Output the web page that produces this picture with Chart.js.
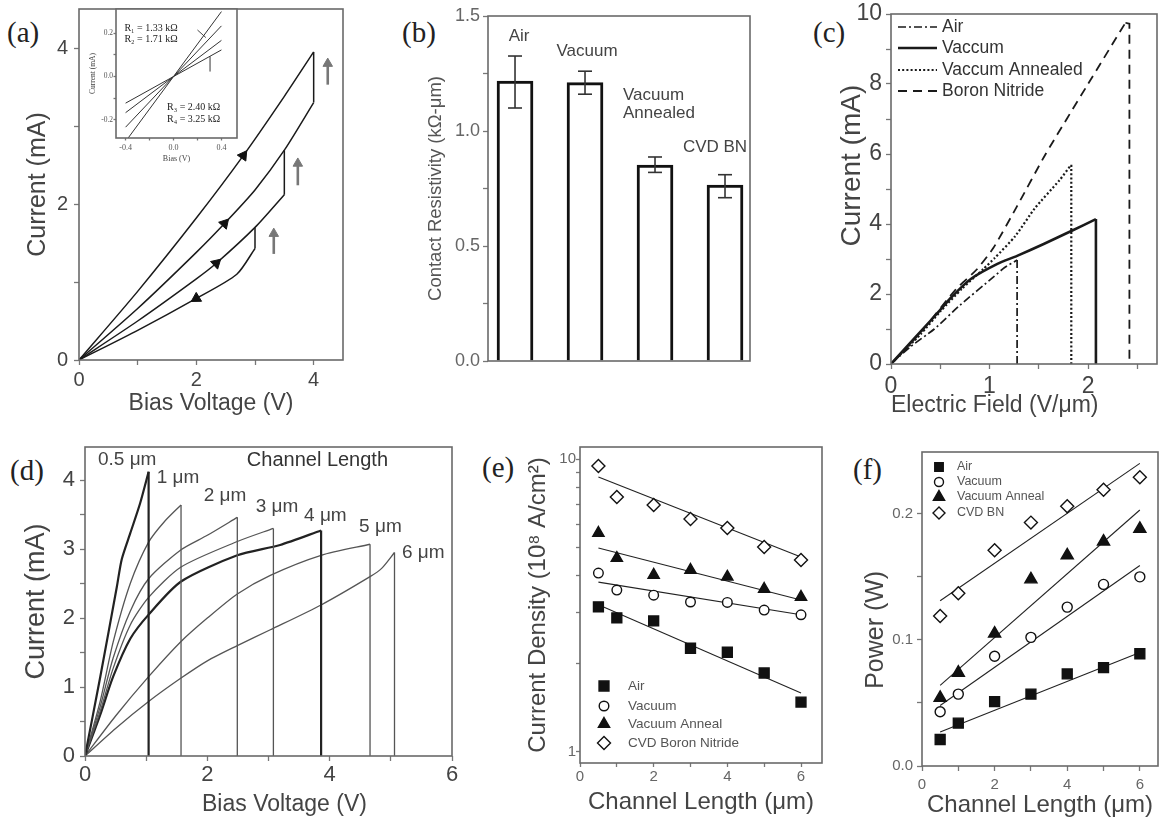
<!DOCTYPE html>
<html><head><meta charset="utf-8">
<script src="https://cdn.jsdelivr.net/npm/chart.js@4.4.1/dist/chart.umd.min.js"></script>
<style>
html,body{margin:0;padding:0;background:#fff;width:1160px;height:822px;overflow:hidden;position:relative}
canvas{position:absolute;left:-40px;top:-40px}
.pl{position:absolute;font-family:"Liberation Serif","Times New Roman",serif;font-size:29px;color:#222;line-height:1;transform:translateY(-50%)}
</style></head><body>
<div class="pl" style="left:7px;top:32px">(a)</div>
<div class="pl" style="left:402px;top:32px">(b)</div>
<div class="pl" style="left:813px;top:32px">(c)</div>
<div class="pl" style="left:10px;top:470px">(d)</div>
<div class="pl" style="left:482px;top:467px">(e)</div>
<div class="pl" style="left:853px;top:469px">(f)</div>
<script>
// ===================== DATA =====================
// (a) I-V sweeps (Bias V, Current mA)
const aBias1 = [0, 1, 2, 2.8, 3.5, 4];
const aCur1  = [0, 0.88, 1.82, 2.62, 3.38, 3.95];
const aBias2 = [0, 1, 2, 2.48, 3, 3.5, 4];
const aCur2  = [0, 0.66, 1.38, 1.75, 2.18, 2.69, 3.3];
const aBias3 = [0, 1, 2, 2.34, 3, 3.5];
const aCur3  = [0, 0.5, 1.04, 1.24, 1.7, 2.12];
const aBias4 = [0, 1, 2, 2.69, 3];
const aCur4  = [0, 0.38, 0.79, 1.1, 1.43];
const aDropV  = [4, 3.5, 3];
const aDropHi = [3.95, 2.69, 1.7];
const aDropLo = [3.3, 2.12, 1.43];
const aMarkV = [2.8, 2.48, 2.34, 2.0];
const aMarkI = [2.62, 1.75, 1.24, 0.79];
const aUpV    = [4.24, 3.73, 3.32];
const aUpFrom = [3.53, 2.24, 1.36];
const aUpTo   = [3.80, 2.52, 1.62];
const aTicks = [0, 1, 2, 3, 4];
const aTickLabels = [0, 2, 4];
// (a) inset
const inBias = [-0.4, 0.4];
const inCur1 = [-0.30, 0.30];
const inCur2 = [-0.234, 0.234];
const inCur3 = [-0.167, 0.167];
const inCur4 = [-0.123, 0.123];
const inRLabels = ['R\u2081 = 1.33 k\u03A9', 'R\u2082 = 1.71 k\u03A9', 'R\u2083 = 2.40 k\u03A9', 'R\u2084 = 3.25 k\u03A9'];
const inTicksX = [-0.4, -0.2, 0, 0.2, 0.4];
const inTickLabelsX = [-0.4, 0, 0.4];
const inTicksY = [-0.2, -0.1, 0, 0.1, 0.2];
const inTickLabelsY = [-0.2, 0, 0.2];
// (b) contact resistivity
const bLabels = [['Air'], ['Vacuum'], ['Vacuum', 'Annealed'], ['CVD BN']];
const bValues = [1.217, 1.21, 0.852, 0.765];
const bErrLo  = [1.10, 1.16, 0.82, 0.71];
const bErrHi  = [1.326, 1.26, 0.887, 0.81];
const bLabelY = [1.41, 1.345, 1.157, 0.93];
const bTicks = [0, 0.25, 0.5, 0.75, 1, 1.25, 1.5];
const bTickLabels = [0, 0.5, 1, 1.5];
// (c) current vs field
const cNames = ['Air', 'Vaccum', 'Vaccum Annealed', 'Boron Nitride'];
const cAirX = [0, 0.2, 0.44, 0.7, 1.05, 1.15, 1.28];
const cAirY = [0, 0.5, 1.0, 1.68, 2.51, 2.75, 2.97];
const cVacX = [0, 0.26, 0.47, 0.61, 0.81, 1.08, 1.28, 1.55, 1.83, 2.08];
const cVacY = [0, 0.8, 1.45, 1.9, 2.43, 2.86, 3.09, 3.43, 3.8, 4.14];
const cAnnX = [0, 0.3, 0.5, 0.72, 0.94, 1.05, 1.26, 1.46, 1.71, 1.82];
const cAnnY = [0, 0.85, 1.5, 2.15, 2.72, 3.02, 3.65, 4.45, 5.25, 5.66];
const cBNX  = [0, 0.3, 0.66, 0.87, 1.04, 1.28, 1.57, 2.0, 2.38];
const cBNY  = [0, 0.9, 2.14, 2.7, 3.32, 4.51, 6.0, 8.0, 9.75];
const cDropX   = [1.28, 2.08, 1.83, 2.42];
const cDropTop = [2.97, 4.14, 5.66, 9.72];
const cTicksX = [0, 0.5, 1, 1.5, 2, 2.5];
const cTickLabelsX = [0, 1, 2];
const cTicksY = [0, 1, 2, 3, 4, 5, 6, 7, 8, 9, 10];
const cTickLabelsY = [0, 2, 4, 6, 8, 10];
// (d) channel length sweeps
const dNames = ['0.5 \u03BCm', '1 \u03BCm', '2 \u03BCm', '3 \u03BCm', '4 \u03BCm', '5 \u03BCm', '6 \u03BCm'];
const d05X = [0, 0.25, 0.52, 0.6, 0.74, 0.9, 1.04];
const d05Y = [0, 1.15, 2.45, 2.85, 3.23, 3.66, 4.12];
const d1X = [0, 0.25, 0.46, 0.74, 1.04, 1.3, 1.57];
const d1Y = [0, 0.8, 1.65, 2.5, 3.1, 3.4, 3.64];
const d2X = [0, 0.25, 0.46, 0.74, 1.04, 1.57, 2.0, 2.49];
const d2Y = [0, 0.72, 1.42, 2.1, 2.57, 2.99, 3.2, 3.46];
const d3X = [0, 0.25, 0.46, 0.74, 1.04, 1.57, 2.49, 3.08];
const d3Y = [0, 0.65, 1.27, 1.9, 2.3, 2.74, 3.11, 3.3];
const d4X = [0, 0.25, 0.46, 0.74, 1.04, 1.57, 2.49, 3.19, 3.86];
const d4Y = [0, 0.6, 1.15, 1.7, 2.05, 2.53, 2.91, 3.06, 3.27];
const d5X = [0, 0.5, 1.04, 1.57, 2.0, 2.49, 3.03, 3.86, 4.66];
const d5Y = [0, 0.58, 1.15, 1.66, 2.0, 2.35, 2.62, 2.91, 3.07];
const d6X = [0, 0.5, 1.04, 1.57, 2.0, 2.49, 3.03, 3.86, 4.66, 4.85, 5.06];
const d6Y = [0, 0.4, 0.79, 1.13, 1.38, 1.6, 1.83, 2.19, 2.6, 2.72, 2.95];
const dLabX = [0.69, 1.52, 2.29, 3.14, 3.93, 4.83, 5.53];
const dLabY = [4.29, 4.03, 3.77, 3.61, 3.49, 3.32, 2.94];
const dTicksX = [0, 1, 2, 3, 4, 5, 6];
const dTickLabelsX = [0, 2, 4, 6];
const dTicksY = [0, 0.5, 1, 1.5, 2, 2.5, 3, 3.5, 4];
const dTickLabelsY = [0, 1, 2, 3, 4];
// (e) current density vs channel length
const eNames = ['Air', 'Vacuum', 'Vacuum Anneal', 'CVD Boron Nitride'];
const eLen = [0.5, 1, 2, 3, 4, 5, 6];
const eAir = [3.13, 2.87, 2.8, 2.26, 2.19, 1.86, 1.48];
const eVac = [4.08, 3.57, 3.43, 3.25, 3.24, 3.05, 2.94];
const eAnn = [5.59, 4.59, 4.02, 4.18, 3.96, 3.6, 3.38];
const eBN  = [9.46, 7.42, 6.97, 6.24, 5.81, 5.01, 4.52];
const eFitX = [0.5, 6];
const eFitAir = [3.18, 1.59];
const eFitVac = [3.80, 2.94];
const eFitAnn = [4.97, 3.30];
const eFitBN  = [8.68, 4.63];
const eTicksX = [0, 1, 2, 3, 4, 5, 6];
const eTickLabelsX = [0, 2, 4, 6];
const eTicksY = [1, 2, 3, 4, 5, 6, 7, 8, 9, 10];
const eTickLabelsY = [1, 10];
// (f) power vs channel length
const fNames = ['Air', 'Vacuum', 'Vacuum Anneal', 'CVD BN'];
const fLen = [0.5, 1, 2, 3, 4, 5, 6];
const fAir = [0.021, 0.034, 0.051, 0.057, 0.073, 0.078, 0.089];
const fVac = [0.043, 0.057, 0.087, 0.102, 0.126, 0.144, 0.150];
const fAnn = [0.054, 0.074, 0.105, 0.148, 0.167, 0.178, 0.188];
const fBN  = [0.119, 0.137, 0.171, 0.193, 0.206, 0.219, 0.229];
const fFitX = [0.5, 6];
const fFitAir = [0.027, 0.090];
const fFitVac = [0.048, 0.159];
const fFitAnn = [0.064, 0.203];
const fFitBN  = [0.131, 0.240];
const fTicksX = [0, 1, 2, 3, 4, 5, 6];
const fTickLabelsX = [0, 2, 4, 6];
const fTicksY = [0, 0.05, 0.1, 0.15, 0.2];
const fTickLabelsY = [0, 0.1, 0.2];

// ===================== HELPERS =====================
const O = 40, W = 1160 + 2 * O, H = 822 + 2 * O;
const SANS = '"Liberation Sans", Arial, sans-serif';
const SERIF = '"Liberation Serif", "Times New Roman", serif';
Chart.defaults.font.family = SANS;
Chart.defaults.color = '#555';
Chart.defaults.animation = false;
Chart.defaults.events = [];

function pts(xs, ys) { return xs.map((x, i) => ({ x: x, y: ys[i] })); }
function makeCanvas() {
  const c = document.createElement('canvas');
  c.width = W; c.height = H; c.style.width = W + 'px'; c.style.height = H + 'px';
  document.body.appendChild(c); return c;
}
function text(ctx, s, x, y, o) {
  o = o || {};
  ctx.save();
  ctx.font = (o.weight || 'normal') + ' ' + (o.size || 12) + 'px ' + (o.family || SANS);
  ctx.fillStyle = o.color || '#444';
  ctx.textAlign = o.align || 'center';
  ctx.textBaseline = 'middle';
  ctx.fillText(s, x, y);
  ctx.restore();
}
function seg(ctx, x1, y1, x2, y2, lw, col, dash) {
  ctx.save(); ctx.beginPath(); ctx.setLineDash(dash || []);
  ctx.lineWidth = lw; ctx.strokeStyle = col; ctx.moveTo(x1, y1); ctx.lineTo(x2, y2); ctx.stroke(); ctx.restore();
}
function marker(ctx, st, x, y) {
  const r = st.r;
  ctx.save(); ctx.beginPath();
  if (st.ps === 'rect') { const s = r * Math.SQRT1_2; ctx.rect(x - s, y - s, 2 * s, 2 * s); }
  else if (st.ps === 'circle') ctx.arc(x, y, r, 0, Math.PI * 2);
  else if (st.ps === 'triangle') {
    const a = 2 * Math.PI / 3;
    ctx.moveTo(x, y - r); ctx.lineTo(x + r * Math.sin(a), y - r * Math.cos(a)); ctx.lineTo(x - r * Math.sin(a), y - r * Math.cos(a)); ctx.closePath();
  } else { ctx.moveTo(x, y - r); ctx.lineTo(x + r, y); ctx.lineTo(x, y + r); ctx.lineTo(x - r, y); ctx.closePath(); }
  ctx.fillStyle = st.fill; ctx.fill(); ctx.lineWidth = 1.4; ctx.strokeStyle = '#111'; ctx.stroke(); ctx.restore();
}
function frame(c) {
  const a = c.chartArea, ctx = c.ctx;
  ctx.save(); ctx.strokeStyle = '#6a6a6a'; ctx.lineWidth = 1.6;
  ctx.strokeRect(a.left, a.top, a.right - a.left, a.bottom - a.top); ctx.restore();
}
function axis(a, horiz, size, box) {
  const tl = a.tickLen !== undefined ? a.tickLen : 5;
  const fs = a.fs || 12;
  const fam = a.family || SANS;
  let tp = 0;
  if (a.lblY !== undefined) tp = a.lblY - box.B - tl - fs * 0.6;
  if (a.lblR !== undefined) tp = box.L - tl - a.lblR;
  const ticks = a.ticks || [];
  const cfg = {
    type: a.type || 'linear', position: horiz ? 'bottom' : 'left', offset: false,
    min: a.min, max: a.max, bounds: 'data', grace: 0,
    afterBuildTicks: s => { s.ticks = ticks.map(v => ({ value: v })); },
    afterFit: s => { if (horiz) s.height = size; else s.width = size; },
    ticks: {
      display: a.showLabels !== false, autoSkip: false, maxRotation: 0, minRotation: 0,
      padding: Math.max(0, tp), font: { family: fam, size: fs }, color: a.color || '#555',
      callback: v => (a.labels || []).some(u => Math.abs(u - v) < 1e-9) ? (a.fmt ? a.fmt(v) : String(v)) : ''
    },
    grid: { display: ticks.length > 0, drawOnChartArea: false, drawTicks: true, tickLength: tl, tickColor: '#777', tickWidth: a.tickWidth || 1.3, offset: false },
    border: { display: false },
    title: { display: false }
  };
  const t = a.title;
  if (t) cfg.title = { display: true, text: t.text, font: { family: t.family || SANS, size: t.size }, color: t.color || '#444',
    align: t.align || 'center', padding: horiz ? { top: 0, bottom: 1 } : { top: 1, bottom: 0 } };
  return cfg;
}
function panel(p) {
  const box = p.box, yt = p.y.title, xt = p.x.title;
  const ylh = yt ? yt.size * 1.2 : 0;
  const padL = yt ? O + yt.x - ylh / 2 - 1 : O + box.L - 30;
  const yw = O + box.L - padL;
  const xlh = xt ? xt.size * 1.2 : 0;
  const sBottom = xt ? O + xt.y + xlh / 2 + 1 : O + box.B + 30;
  const xh = sBottom - (O + box.B);
  const extra = { id: 'extra',
    beforeDatasetsDraw(c) { if (p.before) p.before(c); },
    afterDatasetsDraw(c) { frame(c); if (p.draw) p.draw(c); } };
  return new Chart(makeCanvas(), {
    type: p.type || 'line',
    data: { datasets: p.datasets },
    options: {
      responsive: false, maintainAspectRatio: false, devicePixelRatio: 1,
      layout: { padding: { left: padL, top: O + box.T, right: W - (O + box.R), bottom: H - sBottom } },
      scales: { x: axis(p.x, true, xh, box), y: axis(p.y, false, yw, box) },
      plugins: { legend: { display: false }, tooltip: { enabled: false } }
    },
    plugins: [extra]
  });
}
function lineDs(xs, ys, o) {
  o = o || {};
  return { data: pts(xs, ys), borderColor: o.color || '#222', borderWidth: o.w || 1.2, borderDash: o.dash || [],
    pointRadius: 0, tension: o.t || 0, order: 1, fill: false, borderCapStyle: 'butt' };
}
function markerDs(xs, ys, st) {
  return { data: pts(xs, ys), showLine: false, pointStyle: st.ps, pointRadius: st.r, pointBackgroundColor: st.fill,
    pointBorderColor: '#111', pointBorderWidth: 1.4, order: 0 };
}

// ===================== (a) =====================
const aCurves = [[aBias1, aCur1], [aBias2, aCur2], [aBias3, aCur3], [aBias4, aCur4]];
const aMarkRot = [35, 42, 47, 239];
const aDs = [];
aCurves.forEach(cv => aDs.push(lineDs(cv[0], cv[1], { w: 1.5, color: '#1a1a1a', t: 0.25 })));
aDropV.forEach((v, i) => aDs.push(lineDs([v, v], [aDropHi[i], aDropLo[i]], { w: 1.5, color: '#1a1a1a' })));
aDs.push({ data: pts(aMarkV, aMarkI), showLine: false, pointStyle: 'triangle', pointRadius: 6, pointRotation: aMarkRot,
  pointBackgroundColor: '#111', pointBorderColor: '#111', pointBorderWidth: 1, order: 0 });
aUpV.forEach((v, i) => aDs.push({ data: pts([v, v], [aUpFrom[i], aUpTo[i]]), borderColor: '#777', borderWidth: 2.6,
  pointRadius: [0, 5.5], pointStyle: 'triangle', pointBackgroundColor: '#777', pointBorderColor: '#777', pointBorderWidth: 1, order: 0 }));
panel({
  box: { L: 79, T: 9, R: 343, B: 360 },
  x: { min: 0, max: 4.5, ticks: aTicks, labels: aTickLabels, fs: 20, lblY: 380, color: '#444', title: { text: 'Bias Voltage (V)', size: 23, y: 404 } },
  y: { min: 0, max: 4.5, ticks: aTicks, labels: aTickLabels, fs: 20, lblR: 68, color: '#444', title: { text: 'Current (mA)', size: 25, x: 38 } },
  datasets: aDs
});
// (a) inset
panel({
  box: { L: 116, T: 9, R: 237, B: 138 },
  x: { min: -0.48, max: 0.53, ticks: inTicksX, labels: inTickLabelsX, fmt: v => v.toFixed(1), fs: 8, family: SERIF, tickLen: 2.5, lblY: 148,
       title: { text: 'Bias (V)', size: 8, y: 159, family: SERIF } },
  y: { min: -0.284, max: 0.312, ticks: inTicksY, labels: inTickLabelsY, fmt: v => v.toFixed(1), fs: 7.5, family: SERIF, tickLen: 2.5, lblR: 113,
       title: { text: 'Current (mA)', size: 7.5, x: 93, family: SERIF } },
  datasets: [inCur1, inCur2, inCur3, inCur4].map(ys => lineDs(inBias, ys, { w: 1, color: '#333' })),
  before: c => { const a = c.chartArea; c.ctx.save(); c.ctx.fillStyle = '#fff'; c.ctx.fillRect(a.left, a.top, a.right - a.left, a.bottom - a.top); c.ctx.restore(); },
  draw: c => {
    const x = c.scales.x, y = c.scales.y, ctx = c.ctx;
    const f = { size: 10, family: SERIF, color: '#222', align: 'left' };
    text(ctx, inRLabels[0], x.getPixelForValue(-0.41), y.getPixelForValue(0.223), f);
    text(ctx, inRLabels[1], x.getPixelForValue(-0.41), y.getPixelForValue(0.172), f);
    text(ctx, inRLabels[2], x.getPixelForValue(-0.054), y.getPixelForValue(-0.144), f);
    text(ctx, inRLabels[3], x.getPixelForValue(-0.054), y.getPixelForValue(-0.2), f);
    seg(ctx, x.getPixelForValue(0.305), y.getPixelForValue(0.093), x.getPixelForValue(0.305), y.getPixelForValue(0.023), 1, '#333');
    seg(ctx, x.getPixelForValue(0.2), y.getPixelForValue(0.215), x.getPixelForValue(0.27), y.getPixelForValue(0.18), 0.9, '#333');
  }
});

// ===================== (b) =====================
const bDx = [4, 2, -32, -10];
const bAlign = ['center', 'center', 'left', 'center'];
panel({
  type: 'bar',
  box: { L: 488, T: 16, R: 750, B: 361 },
  x: { min: 0.614, max: 4.357, ticks: [], showLabels: false },
  y: { min: 0, max: 1.5, ticks: bTicks, labels: bTickLabels, fmt: v => v.toFixed(1), fs: 18, lblR: 480, color: '#666',
       title: { text: 'Contact Resistivity (k\u03A9-\u03BCm)', size: 18.5, x: 436, color: '#555' } },
  datasets: [{ data: bValues.map((v, i) => ({ x: i + 1, y: v })), backgroundColor: '#fff', borderColor: '#111', borderWidth: 3, barThickness: 36, borderSkipped: 'start' }],
  draw: c => {
    const x = c.scales.x, y = c.scales.y, ctx = c.ctx;
    bValues.forEach((v, i) => {
      const px = x.getPixelForValue(i + 1), lo = y.getPixelForValue(bErrLo[i]), hi = y.getPixelForValue(bErrHi[i]);
      seg(ctx, px, lo, px, hi, 1.6, '#333'); seg(ctx, px - 7, lo, px + 7, lo, 1.6, '#333'); seg(ctx, px - 7, hi, px + 7, hi, 1.6, '#333');
      bLabels[i].forEach((s, k) => text(ctx, s, px + bDx[i], y.getPixelForValue(bLabelY[i]) + k * 18, { size: 17, color: '#444', align: bAlign[i] }));
    });
  }
});

// ===================== (c) =====================
const cStyles = [{ dash: [8, 3, 2, 3], w: 1.7 }, { dash: [], w: 2.6 }, { dash: [2, 2.2], w: 2.2 }, { dash: [9, 6], w: 1.8 }];
const cSeries = [[cAirX, cAirY], [cVacX, cVacY], [cAnnX, cAnnY], [cBNX, cBNY]];
const cDs = [];
cSeries.forEach((s, i) => {
  const st = cStyles[i];
  cDs.push(lineDs(s[0], s[1], { w: st.w, dash: st.dash, color: '#1a1a1a', t: 0.2 }));
  const lx = s[0][s[0].length - 1], ly = s[1][s[1].length - 1];
  cDs.push(lineDs([lx, cDropX[i], cDropX[i]], [ly, cDropTop[i], 0], { w: st.w, dash: st.dash, color: '#1a1a1a' }));
});
panel({
  box: { L: 891, T: 14, R: 1157, B: 364 },
  x: { min: 0, max: 2.7, ticks: cTicksX, labels: cTickLabelsX, fs: 23, lblY: 387, color: '#444',
       title: { text: 'Electric Field (V/\u03BCm)', size: 23, y: 406, align: 'start' } },
  y: { min: 0, max: 10, ticks: cTicksY, labels: cTickLabelsY, fs: 23, lblR: 882, color: '#444',
       title: { text: '      Current (mA)', size: 28, x: 852 } },
  datasets: cDs,
  draw: c => {
    const a = c.chartArea, ctx = c.ctx;
    const rows = [13, 34, 56, 77];
    cNames.forEach((n, i) => {
      const yy = a.top + rows[i];
      seg(ctx, a.left + 7, yy, a.left + 46, yy, cStyles[i].w, '#1a1a1a', cStyles[i].dash);
      text(ctx, n, a.left + 51, yy, { size: 17.5, color: '#333', align: 'left' });
    });
  }
});

// ===================== (d) =====================
const dSeries = [[d05X, d05Y], [d1X, d1Y], [d2X, d2Y], [d3X, d3Y], [d4X, d4Y], [d5X, d5Y], [d6X, d6Y]];
const dWidth = [2.2, 1.3, 1.3, 1.3, 2.2, 1.3, 1.3];
const dColor = ['#222', '#555', '#555', '#555', '#222', '#555', '#555'];
const dDs = [];
dSeries.forEach((s, i) => {
  dDs.push(lineDs(s[0], s[1], { w: dWidth[i], color: dColor[i], t: 0.25 }));
  const lx = s[0][s[0].length - 1], ly = s[1][s[1].length - 1];
  dDs.push(lineDs([lx, lx], [ly, 0], { w: dWidth[i], color: dColor[i] }));
});
panel({
  box: { L: 85, T: 447, R: 452, B: 756 },
  x: { min: 0, max: 6, ticks: dTicksX, labels: dTickLabelsX, fs: 22, lblY: 775, color: '#444',
       title: { text: '     Bias Voltage (V)', size: 23, y: 805 } },
  y: { min: 0, max: 4.48, ticks: dTicksY, labels: dTickLabelsY, fs: 22, lblR: 75, color: '#444',
       title: { text: 'Current (mA)', size: 27, x: 37 } },
  datasets: dDs,
  draw: c => {
    const x = c.scales.x, y = c.scales.y, ctx = c.ctx;
    dNames.forEach((n, i) => text(ctx, n, x.getPixelForValue(dLabX[i]), y.getPixelForValue(dLabY[i]), { size: 19, color: '#444' }));
    text(ctx, 'Channel Length', x.getPixelForValue(3.8), y.getPixelForValue(4.29), { size: 20, color: '#333' });
  }
});

// ===================== (e) =====================
const eStyles = [{ ps: 'rect', r: 7, fill: '#111' }, { ps: 'circle', r: 4.8, fill: '#fff' }, { ps: 'triangle', r: 6.5, fill: '#111' }, { ps: 'rectRot', r: 6.5, fill: '#fff' }];
const eSer = [eAir, eVac, eAnn, eBN], eFits = [eFitAir, eFitVac, eFitAnn, eFitBN];
const eDs = [];
eSer.forEach((s, i) => { eDs.push(markerDs(eLen, s, eStyles[i])); eDs.push(lineDs(eFitX, eFits[i], { w: 1.1, color: '#222' })); });
panel({
  box: { L: 580, T: 447, R: 822, B: 763 },
  x: { min: 0, max: 6.57, ticks: eTicksX, labels: eTickLabelsX, fs: 15, tickLen: 4, lblY: 777, color: '#666',
       title: { text: 'Channel Length (\u03BCm)', size: 24, y: 802 } },
  y: { type: 'logarithmic', min: 0.917, max: 10.99, ticks: eTicksY, labels: eTickLabelsY, fs: 15, tickLen: 4, lblR: 576, color: '#666',
       title: { text: 'Current Density (10\u2078 A/cm\u00B2)', size: 24, x: 538 } },
  datasets: eDs,
  draw: c => {
    const a = c.chartArea, ctx = c.ctx, rows = [77, 57, 39, 20];
    eNames.forEach((n, i) => {
      marker(ctx, eStyles[i], a.left + 24, a.bottom - rows[i]);
      text(ctx, n, a.left + 48, a.bottom - rows[i], { size: 13.5, color: '#555', align: 'left' });
    });
  }
});

// ===================== (f) =====================
const fStyles = [{ ps: 'rect', r: 7, fill: '#111' }, { ps: 'circle', r: 5, fill: '#fff' }, { ps: 'triangle', r: 7, fill: '#111' }, { ps: 'rectRot', r: 6.5, fill: '#fff' }];
const fSer = [fAir, fVac, fAnn, fBN], fFits = [fFitAir, fFitVac, fFitAnn, fFitBN];
const fDs = [];
fSer.forEach((s, i) => { fDs.push(markerDs(fLen, s, fStyles[i])); fDs.push(lineDs(fFitX, fFits[i], { w: 1.1, color: '#222' })); });
panel({
  box: { L: 922, T: 452, R: 1158, B: 766 },
  x: { min: 0, max: 6.5, ticks: fTicksX, labels: fTickLabelsX, fs: 15, lblY: 785, color: '#666',
       title: { text: 'Channel Length (\u03BCm)', size: 24, y: 805 } },
  y: { min: 0, max: 0.249, ticks: fTicksY, labels: fTickLabelsY, fmt: v => v.toFixed(1), fs: 15, lblR: 913, color: '#666',
       title: { text: 'Power (W)      ', size: 25, x: 876 } },
  datasets: fDs,
  draw: c => {
    const a = c.chartArea, ctx = c.ctx, rows = [15, 30, 45, 61];
    const small = [{ ps: 'rect', r: 6, fill: '#111' }, { ps: 'circle', r: 4.5, fill: '#fff' }, { ps: 'triangle', r: 6.5, fill: '#111' }, { ps: 'rectRot', r: 6, fill: '#fff' }];
    fNames.forEach((n, i) => {
      marker(ctx, small[i], a.left + 17, a.top + rows[i]);
      text(ctx, n, a.left + 35, a.top + rows[i], { size: 12.5, color: '#555', align: 'left' });
    });
  }
});
</script>
</body></html>
